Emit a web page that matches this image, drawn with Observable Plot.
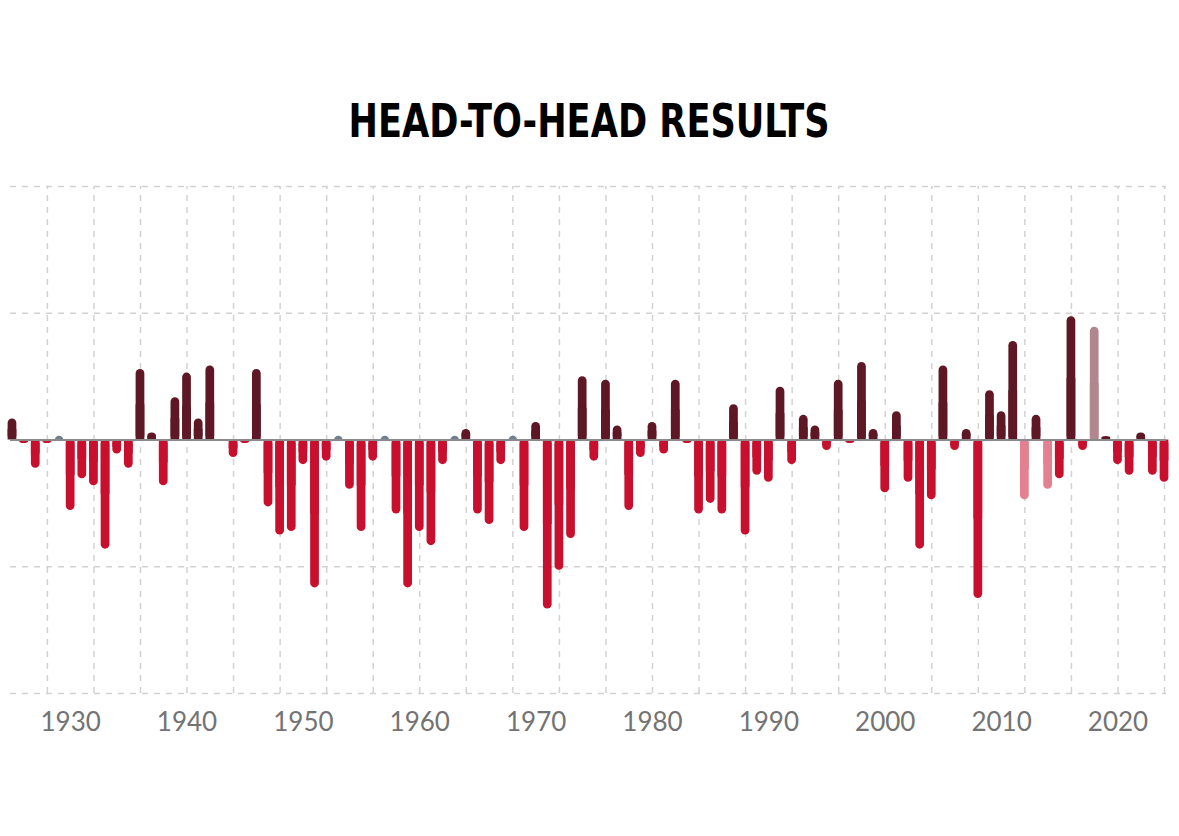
<!DOCTYPE html>
<html>
<head>
<meta charset="utf-8">
<script src="https://cdn.jsdelivr.net/npm/d3@7"></script>
<script src="https://cdn.jsdelivr.net/npm/@observablehq/plot@0.6"></script>
<style>
  html, body { margin: 0; padding: 0; background: #fff; }
  #wrap { width: 1179px; height: 836px; position: relative; }
  #title {
    margin: 0; padding-top: 98px; height: 46px;
    text-align: center;
  }
  #title span {
    display: inline-block;
    font-family: "DejaVu Sans Condensed", "DejaVu Sans", sans-serif;
    font-weight: 700; font-size: 46px; line-height: 46px; color: #000;
    transform: scaleX(0.85); transform-origin: center;
  }
</style>
</head>
<body>
<div id="wrap">
  <div id="title"><span>HEAD-TO-HEAD RESULTS</span></div>
  <div id="chart"></div>
</div>
<script>
// Season years (no game in 1943)
const years = [
  1925,1926,1927,1928,1929,1930,1931,1932,1933,1934,1935,1936,1937,1938,1939,1940,1941,1942,
  1944,1945,1946,1947,1948,1949,1950,1951,1952,1953,1954,1955,1956,1957,1958,1959,1960,1961,
  1962,1963,1964,1965,1966,1967,1968,1969,1970,1971,1972,1973,1974,1975,1976,1977,1978,1979,
  1980,1981,1982,1983,1984,1985,1986,1987,1988,1989,1990,1991,1992,1993,1994,1995,1996,1997,
  1998,1999,2000,2001,2002,2003,2004,2005,2006,2007,2008,2009,2010,2011,2012,2013,2014,2015,
  2016,2017,2018,2019,2020,2021,2022,2023,2024
];
// Point margin: positive = maroon side wins, negative = red side wins, 0 = tie
const margins = [
  6,-1,-8,-1,0,-20,-11,-13,-31,-4,-8,20,2,-13,12,19,6,21,
  -5,-1,20,-19,-27,-26,-7,-42,-6,0,-14,-26,-6,0,-21,-42,-26,-30,
  -7,0,3,-21,-24,-7,0,-26,5,-48,-37,-28,18,-6,17,4,-20,-5,
  5,-4,17,-1,-21,-18,-21,10,-27,-10,-12,15,-7,7,4,-3,17,-1,
  22,3,-15,8,-12,-31,-17,21,-3,3,-45,14,8,28,-17,7,-14,-11,
  35,-3,32,1,-7,-10,2,-10,-12
];
// Results shown in a faded tone
const vacatedYears = [2012, 2014, 2018];
const tickYears = [1930,1940,1950,1960,1970,1980,1990,2000,2010,2020];
const gridYears = d3.range(1928, 2025, 4);
const yGridValues = [-72, -36, 36, 72];

const colors = {
  maroon: "#5e1724", red: "#c8102e",
  maroonFaded: "#b0878e", redFaded: "#e4808f",
  tie: "#6e7f8f"
};

const data = years.map((year, i) => {
  const margin = margins[i];
  const vacated = vacatedYears.includes(year);
  let color;
  if (margin > 0) color = vacated ? colors.maroonFaded : colors.maroon;
  else color = vacated ? colors.redFaded : colors.red;
  return {year, margin, color};
});
const games = data.filter(d => d.margin !== 0);
const ties = data.filter(d => d.margin === 0);

const halfDisc = {
  draw(context, size) {
    const r = Math.sqrt(size / Math.PI);
    context.moveTo(-r, 0);
    context.arc(0, 0, r, Math.PI, 2 * Math.PI);
    context.closePath();
  }
};

const half = 0.375;
const chart = Plot.plot({
  width: 1179,
  height: 609,
  marginTop: 42,
  marginBottom: 60,
  marginLeft: 10,
  marginRight: 13,
  style: {background: "white", color: "#737373", fontFamily: "Lato, 'Open Sans', sans-serif", fontSize: "26px", fontWeight: 400},
  color: {type: "identity"},
  x: {domain: [1924.83, 2024.17], ticks: tickYears, tickFormat: d => `${d}`, tickSize: 0, tickPadding: 19, label: null},
  y: {domain: [-72, 72], axis: null},
  marks: [
    Plot.ruleY(yGridValues, {stroke: "#d2d2d2", strokeWidth: 1.5, strokeDasharray: "6,6"}),
    Plot.ruleX(gridYears, {y1: -72, y2: 72, stroke: "#d2d2d2", strokeWidth: 1.5, strokeDasharray: "6,6"}),
    Plot.rect(games, {x1: d => d.year - half, x2: d => d.year + half, y1: 0, y2: "margin", rx: 4.35, fill: "color"}),
    Plot.rect(games, {x1: d => d.year - half, x2: d => d.year + half, y1: 0, y2: d => d.margin / 2, fill: "color"}),
    Plot.dot(ties, {x: "year", y: 0, r: 4.35, symbol: halfDisc, fill: colors.tie, stroke: null}),
    Plot.ruleY([0], {stroke: "#8a8a8a", strokeWidth: 2})
  ]
});
document.getElementById("chart").appendChild(chart);
</script>
</body>
</html>
